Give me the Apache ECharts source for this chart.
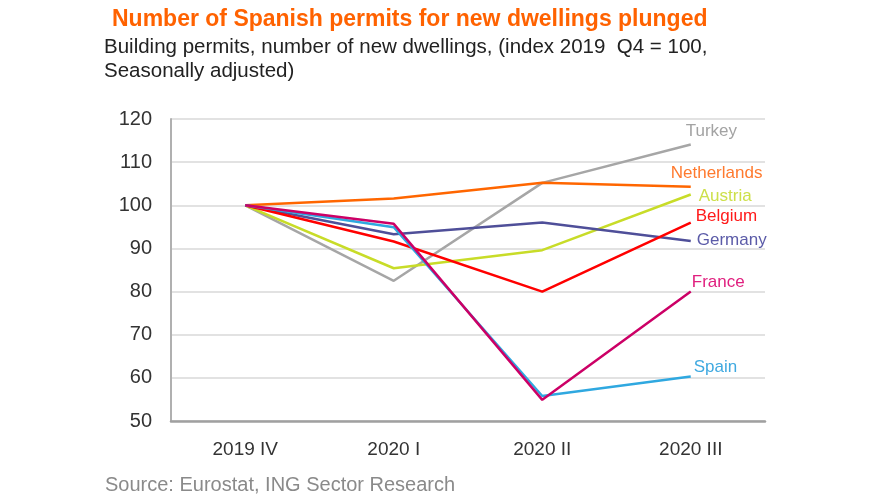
<!DOCTYPE html>
<html><head><meta charset="utf-8">
<script src="https://cdn.jsdelivr.net/npm/echarts@6/dist/echarts.min.js"></script>
<style>html,body{margin:0;padding:0;background:#fff}#c{width:875px;height:500px}</style>
</head><body><div id="c"></div>
<script>
var categories = ['2019 IV', '2020 I', '2020 II', '2020 III'];
var turkey = [100, 82.5, 105.2, 114.1];
var netherlands = [100, 101.6, 105.2, 104.3];
var austria = [100, 85.4, 89.6, 102.5];
var germany = [100, 93.3, 96.0, 91.7];
var belgium = [100, 91.6, 80.0, 96.0];
var spain = [100, 94.9, 55.8, 60.3];
var france = [100, 95.7, 54.9, 80.0];
var yTicks = [50, 60, 70, 80, 90, 100, 110, 120];

var FONT = '"Liberation Sans", Arial, sans-serif';

function mk(name, data, color, labelColor, off) {
  return {
    name: name, type: 'line', data: data, symbol: 'none', smooth: false,
    lineStyle: { color: color, width: 2.5 },
    itemStyle: { color: color },
    endLabel: { show: true, formatter: name, color: labelColor, fontSize: 17, fontFamily: FONT, distance: 0, offset: off },
    z: 2
  };
}

var chart = echarts.init(document.getElementById('c'), null, { renderer: 'canvas' });
chart.setOption({
  animation: false,
  backgroundColor: '#ffffff',
  title: [
    { text: 'Number of Spanish permits for new dwellings plunged', left: 107, top: 3, padding: 5,
      textStyle: { color: '#ff6200', fontSize: 23, fontWeight: 'bold', fontFamily: FONT } },
    { text: 'Building permits, number of new dwellings, (index 2019  Q4 = 100,\nSeasonally adjusted)', left: 99, top: 30, padding: 5,
      textStyle: { color: '#222', fontSize: 20.5, fontWeight: 'normal', lineHeight: 24, fontFamily: FONT } },
    { text: 'Source: Eurostat, ING Sector Research', left: 100, top: 470, padding: 5,
      textStyle: { color: '#8a8a8a', fontSize: 20, fontWeight: 'normal', fontFamily: FONT } }
  ],
  grid: { left: 171, right: 110, top: 119, bottom: 79 },
  xAxis: {
    type: 'category', data: categories, boundaryGap: true,
    axisLine: { lineStyle: { color: '#a0a0a0', width: 2.5 } },
    axisTick: { show: false },
    axisLabel: { color: '#333', fontSize: 19, fontFamily: FONT, margin: 19 }
  },
  yAxis: {
    type: 'value', min: yTicks[0], max: yTicks[yTicks.length - 1], interval: 10,
    axisLine: { show: true, lineStyle: { color: '#b0b0b0', width: 2 } },
    axisTick: { show: false },
    splitLine: { lineStyle: { color: '#d9d9d9', width: 1.5 } },
    axisLabel: { color: '#333', fontSize: 20, fontFamily: FONT, margin: 19 }
  },
  series: [
    mk('Turkey', turkey, '#a6a6a6', '#a3a3a3', [-5, -13]),
    mk('Netherlands', netherlands, '#ff6600', '#ff7a2e', [-20, -13]),
    mk('Austria', austria, '#c8dc28', '#cde04a', [8, 2]),
    mk('Germany', germany, '#4f4f99', '#5b5ba8', [6, -1]),
    mk('Belgium', belgium, '#ff0000', '#ff1a1a', [5, -6]),
    mk('Spain', spain, '#2fa8e0', '#3fa9e0', [3, -9]),
    mk('France', france, '#cc0066', '#e0207f', [1, -9])
  ]
});
</script></body></html>
